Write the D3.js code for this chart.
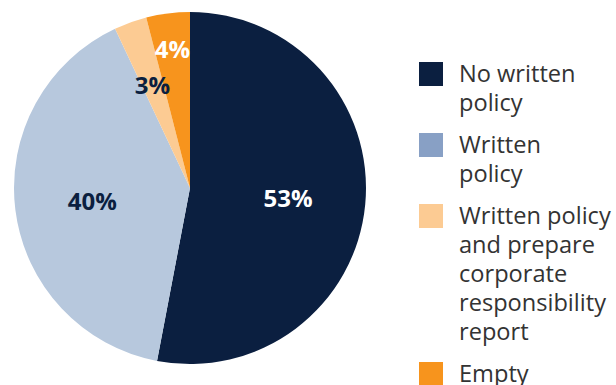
<!DOCTYPE html>
<html>
<head>
<meta charset="utf-8">
<script src="https://cdn.jsdelivr.net/npm/d3@7"></script>
<style>
    html, body { margin: 0; padding: 0; background: #fff; }
    svg { display: block; font-family: "Open Sans", sans-serif; }
</style>
</head>
<body>
<div id="chart"></div>
<script>
var categories = ["No written policy", "Written policy",
    "Written policy and prepare corporate responsibility report", "Empty"];
var values = [53, 40, 3, 4];
var valueLabels = ["53%", "40%", "3%", "4%"];
var legendLines = [
    ["No written", "policy"],
    ["Written", "policy"],
    ["Written policy", "and prepare", "corporate", "responsibility", "report"],
    ["Empty"]
];

var sliceColors = ["#0b1f40", "#b7c8dd", "#fccb93", "#f7941d"];
var legendColors = ["#0b1f40", "#88a0c5", "#fccb93", "#f7941d"];
var labelColors = ["#ffffff", "#0b1f40", "#0b1f40", "#ffffff"];
// label distance from the centre, as a share of the radius
var labelRadius = [0.56, 0.56, 0.63, 0.8];

var width = 616, height = 385;
var cx = 190, cy = 188, radius = 176;

var svg = d3.select("#chart").append("svg")
    .attr("width", width)
    .attr("height", height);

var pie = d3.pie().sort(null).value(function (d) { return d; });
var arcs = pie(values);

var arc = d3.arc().innerRadius(0).outerRadius(radius);

var g = svg.append("g")
    .attr("transform", "translate(" + cx + "," + cy + ")");

g.selectAll("path.slice")
    .data(arcs)
    .enter().append("path")
    .attr("class", "slice")
    .attr("d", arc)
    .attr("fill", function (d, i) { return sliceColors[i]; });

g.selectAll("text.value")
    .data(arcs)
    .enter().append("text")
    .attr("class", "value")
    .attr("transform", function (d, i) {
        var r = radius * labelRadius[i];
        var c = d3.arc().innerRadius(r).outerRadius(r).centroid(d);
        return "translate(" + c[0] + "," + c[1] + ")";
    })
    .attr("text-anchor", "middle")
    .attr("dy", "0.42em")
    .attr("font-size", "24px")
    .attr("font-weight", "bold")
    .attr("fill", function (d, i) { return labelColors[i]; })
    .text(function (d, i) { return valueLabels[i]; });

// legend
var lineHeight = 29, itemGap = 13;
var legend = svg.append("g").attr("transform", "translate(419,62)");
var y = 0;
categories.forEach(function (name, i) {
    var item = legend.append("g").attr("transform", "translate(0," + y + ")");
    item.append("rect")
        .attr("width", 24)
        .attr("height", 24)
        .attr("fill", legendColors[i]);
    var text = item.append("text")
        .attr("x", 40)
        .attr("y", 20)
        .attr("font-size", "23.6px")
        .attr("fill", "#333");
    legendLines[i].forEach(function (line, j) {
        text.append("tspan")
            .attr("x", 40)
            .attr("dy", j === 0 ? 0 : lineHeight)
            .text(line);
    });
    y += legendLines[i].length * lineHeight + itemGap;
});
</script>
</body>
</html>
